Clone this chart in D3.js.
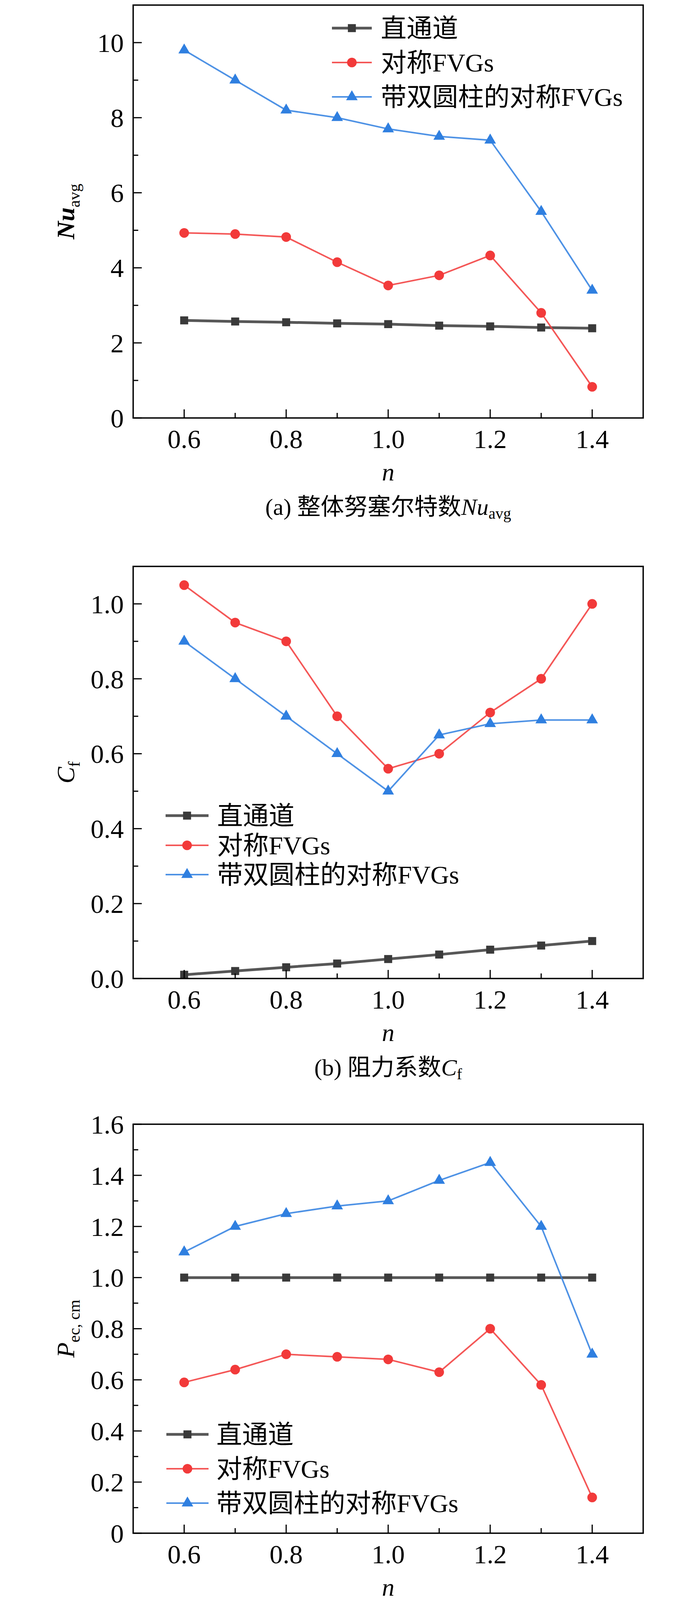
<!DOCTYPE html>
<html>
<head>
<meta charset="utf-8">
<script src="https://d3js.org/d3.v7.min.js"></script>
<style>body{margin:0;background:#fff}</style>
</head>
<body>
<script>
const nVals = [0.6, 0.7, 0.8, 0.9, 1.0, 1.1, 1.2, 1.3, 1.4];
const seriesNames = ["直通道", "对称FVGs", "带双圆柱的对称FVGs"];
const seriesColors = ["#3a3a3a", "#f23a3a", "#2f7fe0"];

const nuStraight = [2.6, 2.57, 2.55, 2.52, 2.5, 2.46, 2.44, 2.41, 2.39];
const nuFvg = [4.93, 4.9, 4.82, 4.15, 3.53, 3.8, 4.33, 2.8, 0.83];
const nuCyl = [9.8, 9.0, 8.2, 8.0, 7.7, 7.5, 7.4, 5.5, 3.4];

const cfStraight = [0.01, 0.02, 0.03, 0.04, 0.052, 0.064, 0.077, 0.088, 0.1];
const cfFvg = [1.05, 0.95, 0.9, 0.7, 0.56, 0.6, 0.71, 0.8, 1.0];
const cfCyl = [0.9, 0.8, 0.7, 0.6, 0.5, 0.65, 0.68, 0.69, 0.69];

const pStraight = [1, 1, 1, 1, 1, 1, 1, 1, 1];
const pFvg = [0.59, 0.64, 0.7, 0.69, 0.68, 0.63, 0.8, 0.58, 0.14];
const pCyl = [1.1, 1.2, 1.25, 1.28, 1.3, 1.38, 1.45, 1.2, 0.7];

const xTickLabels = [0.6, 0.8, 1.0, 1.2, 1.4];

const W = 1772, H = 4225;
const svg = d3.select("body").append("svg")
    .attr("width", W).attr("height", H)
    .attr("font-family", "'Liberation Serif', 'Noto Sans CJK SC', serif");

const panels = [
  {top: 13, bottom: 1070, ymax: 11, ymaj: [0,2,4,6,8,10], ymin: d3.range(1, 11, 2), yfmt: d3.format("d"),
   data: [nuStraight, nuFvg, nuCyl], ylab: ["Nu", "avg"], cap: ["(a) 整体努塞尔特数", "Nu", "avg"],
   leg: {x1: 850, x2: 952, tx: 975, ys: [72, 160, 248]}},
  {top: 1450, bottom: 2505, ymax: 1.1, ymaj: [0,0.2,0.4,0.6,0.8,1.0], ymin: d3.range(0.1, 1.1, 0.2), yfmt: d3.format(".1f"),
   data: [cfStraight, cfFvg, cfCyl], ylab: ["C", "f"], cap: ["(b) 阻力系数", "C", "f"],
   leg: {x1: 424, x2: 534, tx: 556, ys: [2088, 2164, 2239]}},
  {top: 2878, bottom: 3925, ymax: 1.6, ymaj: [0,0.2,0.4,0.6,0.8,1.0,1.2,1.4,1.6], ymin: d3.range(0.1, 1.6, 0.2), yfmt: v => v === 0 ? "0" : d3.format(".1f")(v),
   data: [pStraight, pFvg, pCyl], ylab: ["P", "ec, cm"], cap: ["(c) 性能评价标准", "P", "ec, cm"],
   leg: {x1: 426, x2: 534, tx: 554, ys: [3672, 3760, 3848]}}
];

const left = 341, right = 1647;
const x = d3.scaleLinear().domain([0.5, 1.5]).range([left, right]);
const symbols = [d3.symbolSquare, d3.symbolCircle, d3.symbolTriangle];
const symSize = [420, 480, 380];

function marker(g, i, cx, cy) {
  g.append("path")
    .attr("d", d3.symbol().type(symbols[i]).size(symSize[i]))
    .attr("transform", `translate(${cx},${cy})`)
    .attr("fill", seriesColors[i]);
}

panels.forEach(p => {
  const y = d3.scaleLinear().domain([0, p.ymax]).range([p.bottom, p.top]);
  const g = svg.append("g");

  // series
  p.data.forEach((vals, i) => {
    const line = d3.line().x((d, j) => x(nVals[j])).y(d => y(d));
    g.append("path").datum(vals)
      .attr("d", line).attr("fill", "none")
      .attr("stroke", seriesColors[i]).attr("stroke-opacity", 0.85)
      .attr("stroke-width", i === 0 ? 7 : 4);
    vals.forEach((v, j) => marker(g, i, x(nVals[j]), y(v)));
  });

  // frame
  g.append("rect").attr("x", left).attr("y", p.top)
    .attr("width", right - left).attr("height", p.bottom - p.top)
    .attr("fill", "none").attr("stroke", "#000").attr("stroke-width", 3.5);

  // x ticks (inward)
  nVals.forEach(v => {
    const major = xTickLabels.some(t => Math.abs(t - v) < 1e-9);
    g.append("line").attr("x1", x(v)).attr("x2", x(v))
      .attr("y1", p.bottom).attr("y2", p.bottom - (major ? 22 : 13))
      .attr("stroke", "#000").attr("stroke-width", 3);
  });
  xTickLabels.forEach(v => {
    g.append("text").attr("x", x(v)).attr("y", p.bottom + 77)
      .attr("text-anchor", "middle").attr("font-size", 68).text(d3.format(".1f")(v));
  });
  // y ticks
  p.ymaj.forEach(v => {
    g.append("line").attr("x1", left).attr("x2", left + 22).attr("y1", y(v)).attr("y2", y(v))
      .attr("stroke", "#000").attr("stroke-width", 3);
    g.append("text").attr("x", left - 24).attr("y", y(v)).attr("dy", "0.35em")
      .attr("text-anchor", "end").attr("font-size", 68).text(p.yfmt(v));
  });
  p.ymin.forEach(v => {
    g.append("line").attr("x1", left).attr("x2", left + 13).attr("y1", y(v)).attr("y2", y(v))
      .attr("stroke", "#000").attr("stroke-width", 3);
  });

  // axis titles
  g.append("text").attr("x", x(1.0)).attr("y", p.bottom + 160)
    .attr("text-anchor", "middle").attr("font-size", 64).attr("font-style", "italic").text("n");
  const yt = g.append("text")
    .attr("transform", `translate(190,${(p.top + p.bottom) / 2}) rotate(-90)`)
    .attr("text-anchor", "middle").attr("font-size", 64);
  yt.append("tspan").attr("font-style", "italic").attr("font-weight", p.ylab[0] === "Nu" ? "bold" : "normal").text(p.ylab[0]);
  yt.append("tspan").attr("font-size", 42).attr("dy", 14).text(p.ylab[1]);

  // caption
  const ct = g.append("text").attr("x", x(1.0)).attr("y", p.bottom + 248)
    .attr("text-anchor", "middle").attr("font-size", 60);
  ct.append("tspan").text(p.cap[0]);
  ct.append("tspan").attr("font-style", "italic").text(p.cap[1]);
  ct.append("tspan").attr("font-size", 40).attr("dy", 10).text(p.cap[2]);

  // legend
  seriesNames.forEach((name, i) => {
    const ly = p.leg.ys[i];
    g.append("line").attr("x1", p.leg.x1).attr("x2", p.leg.x2).attr("y1", ly).attr("y2", ly)
      .attr("stroke", seriesColors[i]).attr("stroke-opacity", 0.85).attr("stroke-width", i === 0 ? 7 : 4);
    marker(g, i, (p.leg.x1 + p.leg.x2) / 2, ly);
    g.append("text").attr("x", p.leg.tx).attr("y", ly).attr("dy", "0.35em")
      .attr("font-size", 66).text(name);
  });
});
</script>
</body>
</html>
